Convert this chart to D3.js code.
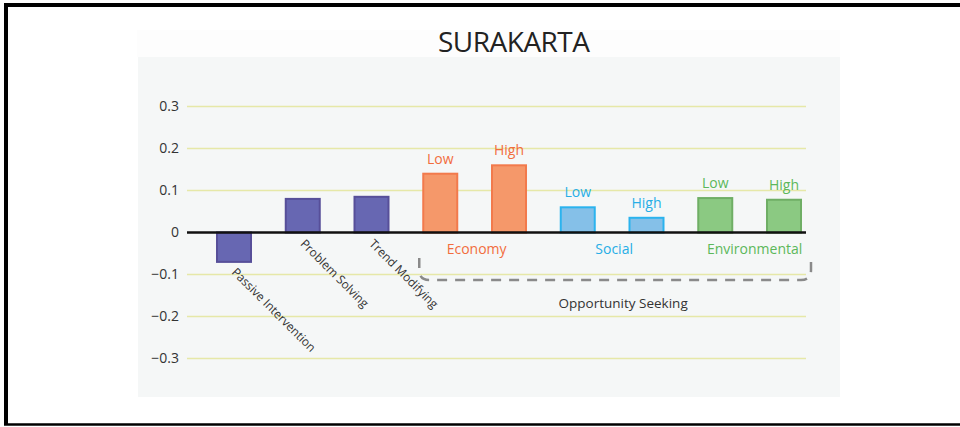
<!DOCTYPE html>
<html>
<head>
<meta charset="utf-8">
<script src="https://cdn.jsdelivr.net/npm/d3@7"></script>
<style>
  body { margin: 0; background: #fff; }
  svg { display: block; font-family: "Open Sans", sans-serif; }
</style>
</head>
<body>
<div id="chart"></div>
<script>
// chart values
const categories = ["Passive Intervention", "Problem Solving", "Trend Modifying",
  "Economy Low", "Economy High", "Social Low", "Social High", "Environmental Low", "Environmental High"];
const values = [-0.07, 0.08, 0.085, 0.14, 0.16, 0.06, 0.035, 0.082, 0.078];
const groups = ["Strategy", "Strategy", "Strategy", "Economy", "Economy", "Social", "Social", "Environmental", "Environmental"];
const levels = ["", "", "", "Low", "High", "Low", "High", "Low", "High"];
const groupNames = ["Economy", "Social", "Environmental"];
const yTicks = [-0.3, -0.2, -0.1, 0, 0.1, 0.2, 0.3];
const title = "SURAKARTA";
const bracketLabel = "Opportunity Seeking";

const fills = {Strategy: "#6767b2", Economy: "#f5986a", Social: "#85c0e8", Environmental: "#8bc982"};
const strokes = {Strategy: "#574f99", Economy: "#f27a4c", Social: "#2bb3ee", Environmental: "#6fae65"};
const textColors = {Economy: "#f26d3d", Social: "#27aee6", Environmental: "#5cb85a"};

const width = 960, height = 427;
const svg = d3.select("#chart").append("svg")
  .attr("width", width)
  .attr("height", height);

// frame
svg.append("rect").attr("x", 137).attr("y", 30).attr("width", 703).attr("height", 27).attr("fill", "#fdfdfd");
svg.append("rect").attr("x", 138).attr("y", 57).attr("width", 702).attr("height", 340).attr("fill", "#f5f7f7");
svg.append("line").attr("x1", 4).attr("x2", 960).attr("y1", 5).attr("y2", 5).attr("stroke", "#000").attr("stroke-width", 4);
svg.append("line").attr("x1", 6).attr("x2", 6).attr("y1", 3).attr("y2", 425).attr("stroke", "#000").attr("stroke-width", 4);
svg.append("line").attr("x1", 4).attr("x2", 960).attr("y1", 424.5).attr("y2", 424.5).attr("stroke", "#000").attr("stroke-width", 2.5);

svg.append("text")
  .attr("x", 514).attr("y", 52)
  .attr("text-anchor", "middle")
  .attr("font-size", 28)
  .attr("fill", "#222")
  .attr("textLength", 152)
  .text(title);

const y = d3.scaleLinear().domain([-0.3, 0.3]).range([358.5, 106.5]);
const x = d3.scalePoint().domain(categories).range([234, 784]);
const barW = 34;
const gridX1 = 187, gridX2 = 806;

// grid
svg.selectAll(".grid").data(yTicks.filter(d => d !== 0)).enter().append("line")
  .attr("x1", gridX1).attr("x2", gridX2)
  .attr("y1", d => y(d)).attr("y2", d => y(d))
  .attr("stroke", "#e6e8a8").attr("stroke-width", 1.5);

// y tick labels
const fmt = d => d === 0 ? "0" : d3.format(".1f")(d);
svg.selectAll(".ytick").data(yTicks).enter().append("text")
  .attr("x", 179).attr("y", d => y(d))
  .attr("dy", "0.35em")
  .attr("text-anchor", "end")
  .attr("font-size", 14)
  .attr("fill", "#333")
  .text(fmt);

// bars
const data = categories.map((c, i) => ({cat: c, value: values[i], group: groups[i], level: levels[i]}));
svg.selectAll(".bar").data(data).enter().append("rect")
  .attr("x", d => x(d.cat) - barW / 2)
  .attr("y", d => Math.min(y(d.value), y(0)))
  .attr("width", barW)
  .attr("height", d => Math.abs(y(d.value) - y(0)))
  .attr("fill", d => fills[d.group])
  .attr("stroke", d => strokes[d.group])
  .attr("stroke-width", 2);

// zero line
svg.append("line")
  .attr("x1", gridX1).attr("x2", gridX2)
  .attr("y1", y(0)).attr("y2", y(0))
  .attr("stroke", "#111").attr("stroke-width", 2.5);

// Low / High labels
svg.selectAll(".lvl").data(data.filter(d => d.level)).enter().append("text")
  .attr("x", d => x(d.cat)).attr("y", d => y(d.value) - 10)
  .attr("text-anchor", "middle")
  .attr("font-size", 14)
  .attr("fill", d => textColors[d.group])
  .text(d => d.level);

// rotated labels for the first three strategies
svg.selectAll(".rot").data(data.filter(d => d.group === "Strategy")).enter().append("text")
  .attr("transform", d => {
    const ty = d.value < 0 ? y(d.value) + 11 : y(0) + 12;
    return `translate(${x(d.cat) - 3},${ty}) rotate(45)`;
  })
  .attr("font-size", 12)
  .attr("fill", "#333")
  .text(d => d.cat);

// group labels
groupNames.forEach(g => {
  const members = data.filter(d => d.group === g);
  const cx = d3.mean(members, d => x(d.cat));
  svg.append("text")
    .attr("x", g === "Environmental" ? cx + 5 : cx + 2).attr("y", 254)
    .attr("text-anchor", "middle")
    .attr("font-size", 14)
    .attr("fill", textColors[g])
    .text(g);
});

// dashed bracket under opportunity seeking
const bx1 = x(categories[3]) - barW / 2 - 4;
const bx2 = x(categories[8]) + barW / 2 + 10;
const by = 280;
svg.append("path")
  .attr("d", `M${bx1},258 L${bx1},270 Q${bx1},${by} ${bx1 + 10},${by} L${bx2 - 10},${by} Q${bx2},${by} ${bx2},270 L${bx2},258`)
  .attr("fill", "none")
  .attr("stroke", "#8a8a8a")
  .attr("stroke-width", 2.5)
  .attr("stroke-dasharray", "10,8");

svg.append("text")
  .attr("x", (bx1 + bx2) / 2 + 8).attr("y", 308)
  .attr("text-anchor", "middle")
  .attr("font-size", 13.5)
  .attr("fill", "#333")
  .text(bracketLabel);
</script>
</body>
</html>
